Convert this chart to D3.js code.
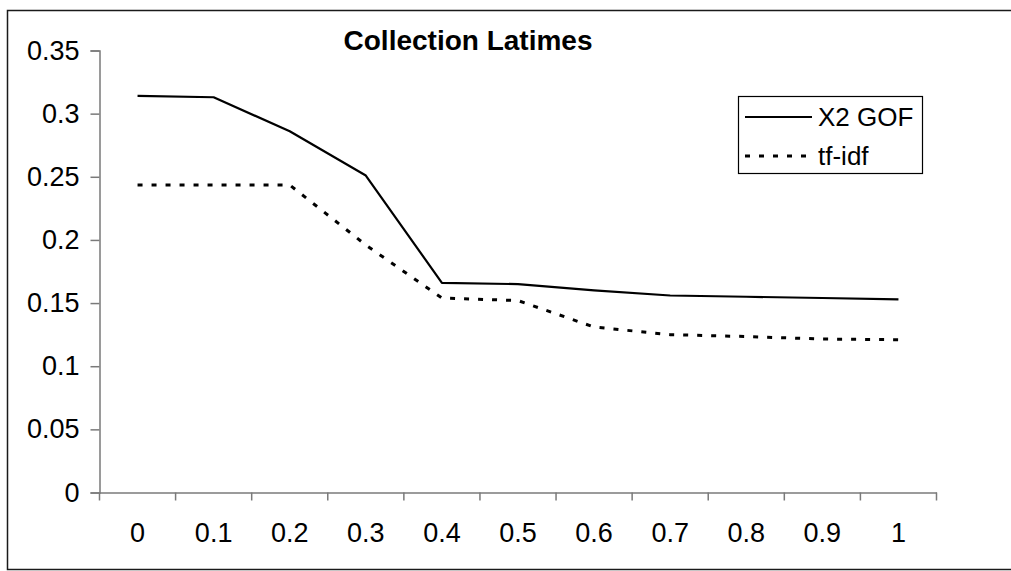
<!DOCTYPE html>
<html>
<head>
<meta charset="utf-8">
<script src="https://cdn.jsdelivr.net/npm/d3@7"></script>
<style>
  html, body { margin: 0; padding: 0; background: #fff; }
  svg { display: block; font-family: "Liberation Sans", Arial, sans-serif; }
</style>
</head>
<body>
<svg id="chart" width="1011" height="571"></svg>
<script>
// Smoothing parameter values on the x axis
const categories = ["0", "0.1", "0.2", "0.3", "0.4", "0.5", "0.6", "0.7", "0.8", "0.9", "1"];
// Average precision per run
const gofValues  = [0.314, 0.313, 0.286, 0.251, 0.166, 0.165, 0.160, 0.156, 0.155, 0.154, 0.153];
const tfidfValues = [0.2435, 0.2435, 0.2435, 0.196, 0.154, 0.152, 0.131, 0.125, 0.1235, 0.1215, 0.121];
const yTicks = [0, 0.05, 0.1, 0.15, 0.2, 0.25, 0.3, 0.35];
const seriesNames = ["X2 GOF", "tf-idf"];

const svg = d3.select("#chart");
const FONT = "Liberation Sans, Arial, sans-serif";

// Outer frame
svg.append("rect")
  .attr("x", 7.5).attr("y", 10.5)
  .attr("width", 1010).attr("height", 559)
  .attr("fill", "none").attr("stroke", "#1a1a1a").attr("stroke-width", 1.5);

const plot = { left: 99.5, right: 936.5, top: 50.5, bottom: 492.5 };

const x = d3.scaleBand().domain(categories).range([plot.left, plot.right]).padding(0);
const y = d3.scaleLinear().domain([0, 0.35]).range([plot.bottom, plot.top]);
const cx = d => x(d) + x.bandwidth() / 2;

// Y axis
const yAxis = svg.append("g")
  .attr("transform", `translate(${plot.left},0)`)
  .call(d3.axisLeft(y).tickValues(yTicks).tickSize(9).tickPadding(11)
    .tickFormat(d => d3.format("~g")(d)));
yAxis.select(".domain").attr("stroke", "#7a7a7a").attr("stroke-width", 1.5);
yAxis.selectAll(".tick line").attr("stroke", "#7a7a7a").attr("stroke-width", 1.5);
yAxis.selectAll(".tick text").attr("font-size", 27).attr("fill", "#000")
  .attr("font-family", FONT);

// X axis: labels centred in each band, tick marks on band boundaries
const xAxis = svg.append("g")
  .attr("transform", `translate(0,${plot.bottom})`)
  .call(d3.axisBottom(x).tickSize(0).tickPadding(30));
xAxis.select(".domain").attr("stroke", "#7a7a7a").attr("stroke-width", 1.5);
xAxis.selectAll(".tick text").attr("font-size", 27).attr("fill", "#000")
  .attr("font-family", FONT);
const boundaries = categories.map(c => x(c)).concat([plot.right]);
xAxis.selectAll("line.bound").data(boundaries).enter().append("line")
  .attr("class", "bound")
  .attr("x1", d => d).attr("x2", d => d)
  .attr("y1", 0).attr("y2", 8)
  .attr("stroke", "#7a7a7a").attr("stroke-width", 1.5);

// Series lines
const line = d3.line().x((d, i) => cx(categories[i])).y(d => y(d));

svg.append("path").datum(gofValues)
  .attr("d", line).attr("fill", "none")
  .attr("stroke", "#000").attr("stroke-width", 2.2).attr("stroke-linejoin", "round");

svg.append("path").datum(tfidfValues)
  .attr("d", line).attr("fill", "none")
  .attr("stroke", "#000").attr("stroke-width", 3).attr("stroke-dasharray", "5,9");

// Title
svg.append("text")
  .attr("x", 468).attr("y", 50)
  .attr("text-anchor", "middle")
  .attr("font-size", 28).attr("font-weight", "bold")
  .text("Collection Latimes");

// Legend
const lg = svg.append("g");
lg.append("rect")
  .attr("x", 738.5).attr("y", 96.5).attr("width", 184).attr("height", 77)
  .attr("fill", "#fff").attr("stroke", "#000").attr("stroke-width", 1.2);
const rows = [
  { name: seriesNames[0], dash: null, w: 2.2, yy: 117 },
  { name: seriesNames[1], dash: "5,9", w: 3, yy: 156 }
];
rows.forEach(r => {
  const l = lg.append("line")
    .attr("x1", 745).attr("x2", 812).attr("y1", r.yy).attr("y2", r.yy)
    .attr("stroke", "#000").attr("stroke-width", r.w);
  if (r.dash) l.attr("stroke-dasharray", r.dash);
  lg.append("text")
    .attr("x", 818).attr("y", r.yy + 9)
    .attr("font-size", 26).text(r.name);
});
</script>
</body>
</html>
